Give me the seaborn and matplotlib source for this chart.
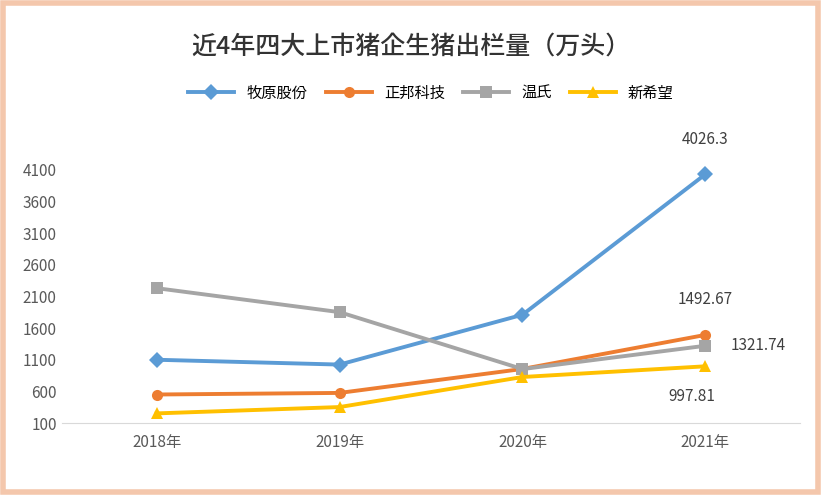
import matplotlib
matplotlib.use("Agg")
import matplotlib.pyplot as plt
import seaborn as sns
import pandas as pd
from matplotlib.patches import Rectangle
from matplotlib import font_manager as fm

years = ["2018年", "2019年", "2020年", "2021年"]
muyuan = [1101, 1025, 1811, 4026.3]
zhengbang = [553, 578, 956, 1492.67]
wens = [2230, 1852, 954, 1321.74]
xinxiwang = [255, 355, 829, 997.81]
names = ["牧原股份", "正邦科技", "温氏", "新希望"]
yticks = [100, 600, 1100, 1600, 2100, 2600, 3100, 3600, 4100]

fam = "Noto Sans CJK SC"
for f in fm.findSystemFonts():
    if "CJK" in f and ("Regular" in f or "SC" in f):
        try:
            fm.fontManager.addfont(f)
        except Exception:
            pass
names_avail = {f.name for f in fm.fontManager.ttflist}
for cand in ["Noto Sans CJK SC", "Noto Sans CJK JP", "Noto Sans SC", "Noto Sans CJK"]:
    if cand in names_avail:
        fam = cand
        break
plt.rcParams["font.family"] = [fam, "DejaVu Sans"]

df = pd.DataFrame({"year": years * 4,
                   "value": muyuan + zhengbang + wens + xinxiwang,
                   "name": sum([[n] * 4 for n in names], [])})

fig = plt.figure(figsize=(8.21, 4.95), dpi=100)
ax = fig.add_axes([0.075, 0.145, 0.9, 0.57])
palette = ["#5B9BD5", "#ED7D31", "#A5A5A5", "#FFC000"]
markers = ["D", "o", "s", "^"]
sns.lineplot(data=df, x="year", y="value", hue="name", style="name",
             palette=palette, markers=markers, dashes=False, lw=2.8,
             markersize=8, markeredgewidth=0, ax=ax, sort=False)
ax.set_ylim(100, 4550)
ax.set_xlim(-0.52, 3.52)
ax.set_yticks(yticks)
ax.set_xlabel("")
ax.set_ylabel("")
for s in ["top", "right", "left"]:
    ax.spines[s].set_visible(False)
ax.spines["bottom"].set_color("#D9D9D9")
ax.tick_params(length=0, labelsize=11, colors="#595959")
ax.tick_params(axis="x", pad=8)

ax.annotate(f"{muyuan[3]}", (3, muyuan[3]), xytext=(0, 22), textcoords="offset points", ha="center", fontsize=11, color="#404040")
ax.annotate(f"{zhengbang[3]}", (3, zhengbang[3]), xytext=(0, 22), textcoords="offset points", ha="center", fontsize=11, color="#404040")
ax.annotate(f"{wens[3]}", (3, wens[3]), xytext=(18, 0), textcoords="offset points", ha="left", va="center", fontsize=11, color="#404040")
ax.annotate(f"{xinxiwang[3]}", (3, xinxiwang[3]), xytext=(-10, -22), textcoords="offset points", ha="center", va="center", fontsize=11, color="#404040")

h, l = ax.get_legend_handles_labels()
ax.legend(h, l, loc="center", bbox_to_anchor=(0.5, 1.17), ncol=4, frameon=False,
          fontsize=11, handlelength=3, columnspacing=1.2)
fig.text(0.5, 0.905, "近4年四大上市猪企生猪出栏量（万头）", ha="center", va="center", fontsize=18, color="#333333", fontweight="medium")
fig.patches.append(Rectangle((0.004, 0.006), 0.992, 0.988, transform=fig.transFigure,
                             fill=False, edgecolor="#F4C7AC", lw=4))
fig.savefig("out.png", dpi=100)
